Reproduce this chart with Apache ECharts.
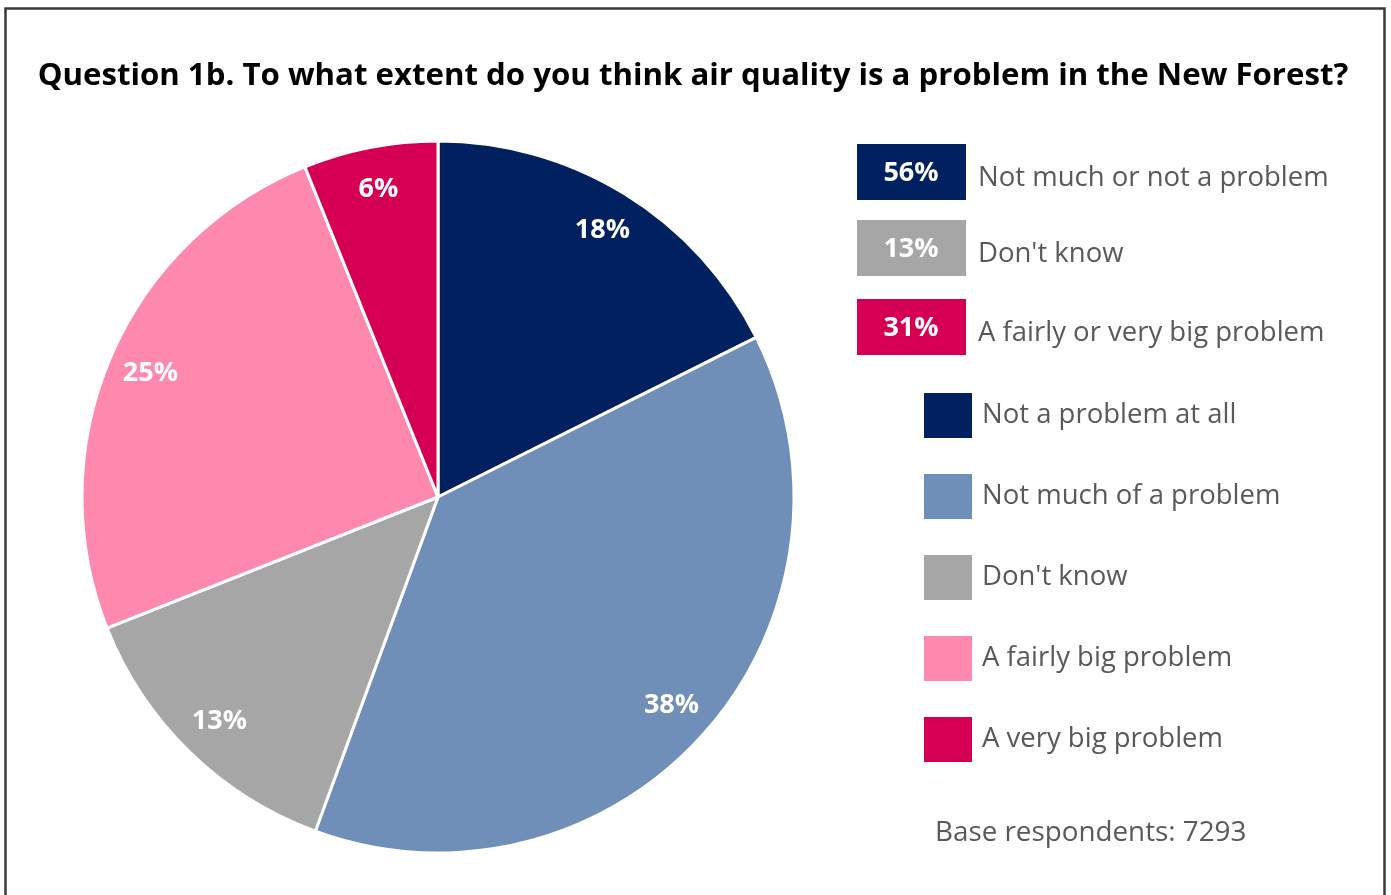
<!DOCTYPE html>
<html>
<head>
<meta charset="utf-8">
<script src="https://cdn.jsdelivr.net/npm/echarts@6/dist/echarts.min.js"></script>
<style>html,body{margin:0;padding:0;background:#fff}#c{width:1391px;height:895px}</style>
</head>
<body>
<div id="c"></div>
<script>
const titleText = 'Question 1b. To what extent do you think air quality is a problem in the New Forest?';
const categories = ['Not a problem at all', 'Not much of a problem', "Don't know", 'A fairly big problem', 'A very big problem'];
const values = [17.6, 38.0, 13.4, 24.9, 6.1];
const colors = ['#002060', '#6F8FB9', '#A6A6A6', '#FF88AE', '#D50054'];
const summaryLabels = ['Not much or not a problem', "Don't know", 'A fairly or very big problem'];
const summaryValues = [56, 13, 31];
const summaryColors = ['#002060', '#A6A6A6', '#D50054'];
const baseText = 'Base respondents: 7293';

const FONT = '"Open Sans", sans-serif';
const chart = echarts.init(document.getElementById('c'));
const data = categories.map((n, i) => ({ name: n, value: values[i], itemStyle: { color: colors[i] } }));
const labelData = categories.map((n, i) => ({ name: n, value: values[i] }));

const graphics = [
  { type: 'rect', shape: { x: 5.5, y: 8.5, width: 1379, height: 900 }, style: { fill: 'none', stroke: '#3a3a3a', lineWidth: 2.5 }, silent: true }
];
const boxTops = [144, 220, 299];
summaryValues.forEach((v, i) => {
  graphics.push({ type: 'rect', shape: { x: 857, y: boxTops[i], width: 109, height: 56 }, style: { fill: summaryColors[i] }, silent: true });
  graphics.push({ type: 'text', x: 911, y: boxTops[i] + 29, style: { text: v + '%', fill: '#fff', font: 'bold 27px ' + FONT, align: 'center', verticalAlign: 'middle' }, silent: true });
  graphics.push({ type: 'text', x: 978, y: boxTops[i] + 34, style: { text: summaryLabels[i], fill: '#595959', font: '27.5px ' + FONT, align: 'left', verticalAlign: 'middle' }, silent: true });
});
graphics.push({ type: 'text', x: 935, y: 833, style: { text: baseText, fill: '#595959', font: '27.8px ' + FONT, align: 'left', verticalAlign: 'middle' }, silent: true });
graphics.push({ type: 'text', x: 693, y: 76, style: { text: titleText, fill: '#000', font: 'bold 31.2px ' + FONT, align: 'center', verticalAlign: 'middle' }, silent: true });

chart.setOption({
  animation: false,
  legend: {
    orient: 'vertical', left: 922, top: 391, padding: 0, itemWidth: 50, itemHeight: 47, itemGap: 32,
    icon: 'rect', data: categories,
    textStyle: { fontFamily: FONT, fontSize: 27.5, color: '#595959', padding: [0, 0, 0, 4] },
    selectedMode: false
  },
  graphic: graphics,
  series: [
    {
      type: 'pie', center: [438, 497], radius: [0, 356], startAngle: 90, clockwise: true,
      data: data, label: { show: false }, labelLine: { show: false },
      itemStyle: { borderColor: '#fff', borderWidth: 3 }, silent: true
    },
    {
      type: 'pie', center: [438, 497], radius: [264, 356], startAngle: 90, clockwise: true,
      data: labelData, itemStyle: { color: 'rgba(0,0,0,0)', borderWidth: 0 }, silent: true,
      labelLine: { show: false }, legendHoverLink: false,
      label: { show: true, position: 'inside', formatter: p => Math.round(p.value) + '%', color: '#fff', fontFamily: FONT, fontWeight: 'bold', fontSize: 27 }
    }
  ]
});
</script>
</body>
</html>
